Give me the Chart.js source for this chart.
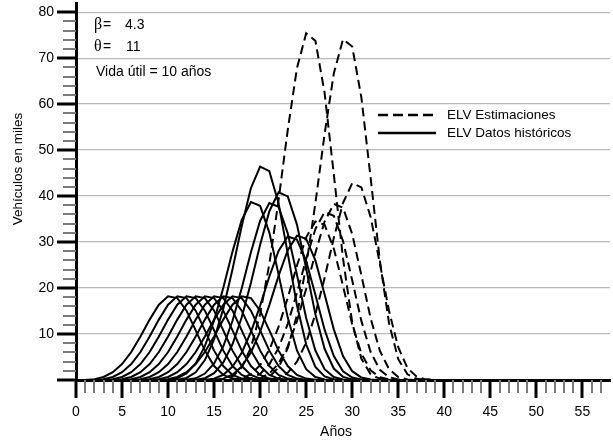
<!DOCTYPE html>
<html>
<head>
<meta charset="utf-8">
<script src="https://cdn.jsdelivr.net/npm/chart.js@4.4.1/dist/chart.umd.min.js"></script>
<style>
  html, body { margin: 0; padding: 0; background: #fff; }
</style>
</head>
<body>
<canvas id="chart" width="613" height="441"></canvas>
<script>
// profile of one cohort (miles de vehículos, by year after sale)
const shape = [0, 0.02, 0.17, 0.65, 1.67, 3.4, 5.97, 9.26, 12.88, 16.06, 17.85, 17.47, 14.79, 10.6, 6.26, 2.97, 1.09, 0.3, 0.06, 0.01];

// one entry per curve: year it starts, peak height, estimated or historical
const startYears = [0, 1, 2, 3, 4, 5, 6, 7, 8, 9, 10, 11, 12, 13, 14, 15, 16, 17, 18, 19, 20];
const peaks = [18.2, 18.2, 18.2, 18.2, 18.2, 18.2, 18.2, 18.2, 18.2, 38.7, 46.4, 38.5, 40.8, 31.2, 31.4, 75.4, 34.5, 36.5, 38.3, 74.1, 42.8];
const estimated = [false, false, false, false, false, false, false, false, false, false, false, false, false, false, false, true, true, true, true, true, true];

const years = [];
for (let t = 0; t <= 50; t++) years.push(t);

const FONT = '"Liberation Sans", Arial, sans-serif';

const datasets = startYears.map((s, i) => ({
    label: estimated[i] ? 'ELV Estimaciones' : 'ELV Datos históricos',
    data: years.map(t => {
        const k = t - s;
        const v = (k >= 0 && k < shape.length) ? shape[k] * peaks[i] / shape[10] : 0;
        return { x: t, y: v };
    }),
    borderColor: '#000',
    borderWidth: 2,
    borderDash: estimated[i] ? [9, 5] : [],
    pointRadius: 0,
    tension: 0,
    fill: false
}));

const extras = {
    id: 'extras',
    afterDraw(chart) {
        const { ctx, chartArea: a, scales: { x, y } } = chart;
        ctx.save();
        ctx.setLineDash([]);

        // y tick marks
        for (let v = 0; v <= 80; v += 2) {
            const py = Math.round(y.getPixelForValue(v));
            const major = v % 10 === 0;
            ctx.strokeStyle = major ? '#000' : '#7a7a7a';
            ctx.lineWidth = major ? 3 : 2;
            ctx.beginPath();
            ctx.moveTo(a.left - (major ? 19 : 13), py);
            ctx.lineTo(a.left, py);
            ctx.stroke();
        }
        // x tick marks
        for (let v = 0; v <= 57; v++) {
            const px = Math.round(x.getPixelForValue(v));
            const major = v % 5 === 0;
            ctx.strokeStyle = major ? '#000' : '#7a7a7a';
            ctx.lineWidth = major ? 3 : 2;
            ctx.beginPath();
            ctx.moveTo(px, a.bottom);
            ctx.lineTo(px, a.bottom + (major ? 18 : 13));
            ctx.stroke();
        }

        // axis titles
        ctx.fillStyle = '#000';
        ctx.strokeStyle = '#000';
        ctx.textBaseline = 'middle';
        ctx.textAlign = 'center';
        ctx.font = '14px ' + FONT;
        ctx.fillText('Años', 336, 432);
        ctx.save();
        ctx.translate(18, 169);
        ctx.rotate(-Math.PI / 2);
        ctx.font = '13.5px ' + FONT;
        ctx.fillText('Vehículos en miles', 0, 0);
        ctx.restore();

        // parameters
        ctx.textAlign = 'left';
        ctx.font = '16px "Liberation Serif", serif';
        ctx.fillText('β', 94, 25);
        ctx.fillText('θ', 94, 47);
        ctx.font = '14px ' + FONT;
        ctx.fillText('=', 103, 25);
        ctx.fillText('=', 103, 47);
        ctx.fillText('4.3', 125, 25);
        ctx.fillText('11', 126, 47);
        ctx.fillText('Vida útil = 10 años', 96, 72);

        // legend
        ctx.lineWidth = 2.5;
        ctx.setLineDash([10, 5]);
        ctx.beginPath(); ctx.moveTo(378, 115); ctx.lineTo(436, 115); ctx.stroke();
        ctx.setLineDash([]);
        ctx.beginPath(); ctx.moveTo(378, 133); ctx.lineTo(436, 133); ctx.stroke();
        ctx.font = '13.5px ' + FONT;
        ctx.fillText('ELV Estimaciones', 447, 115);
        ctx.fillText('ELV Datos históricos', 447, 133);
        ctx.restore();
    }
};

new Chart(document.getElementById('chart').getContext('2d'), {
    type: 'line',
    data: { datasets: datasets },
    options: {
        responsive: false,
        animation: false,
        layout: { padding: { left: 0, right: 3, top: 3, bottom: 0 } },
        plugins: { legend: { display: false }, tooltip: { enabled: false } },
        scales: {
            x: {
                type: 'linear',
                min: 0,
                max: 58,
                afterFit: s => { s.height = 61; s.paddingLeft = 0; s.paddingRight = 0; },
                grid: { display: false, drawTicks: false },
                border: { display: true, color: '#000', width: 3 },
                ticks: {
                    stepSize: 5,
                    autoSkip: false,
                    maxRotation: 0,
                    padding: 24,
                    color: '#000',
                    font: { family: FONT, size: 14 },
                    callback: v => (v % 5 === 0 && v <= 55) ? v : ''
                }
            },
            y: {
                min: 0,
                max: 82,
                afterFit: s => { s.width = 76; s.paddingTop = 0; s.paddingBottom = 0; },
                grid: {
                    drawTicks: false,
                    color: c => (c.tick && c.tick.value % 10 === 0 && c.tick.value > 0 && c.tick.value <= 80) ? '#b9b9b9' : 'rgba(0,0,0,0)',
                    lineWidth: 1.3
                },
                border: { display: true, color: '#000', width: 3 },
                ticks: {
                    stepSize: 2,
                    autoSkip: false,
                    padding: 22,
                    color: '#000',
                    font: { family: FONT, size: 14 },
                    callback: v => (v % 10 === 0 && v > 0) ? v : ''
                }
            }
        }
    },
    plugins: [extras]
});
</script>
</body>
</html>
